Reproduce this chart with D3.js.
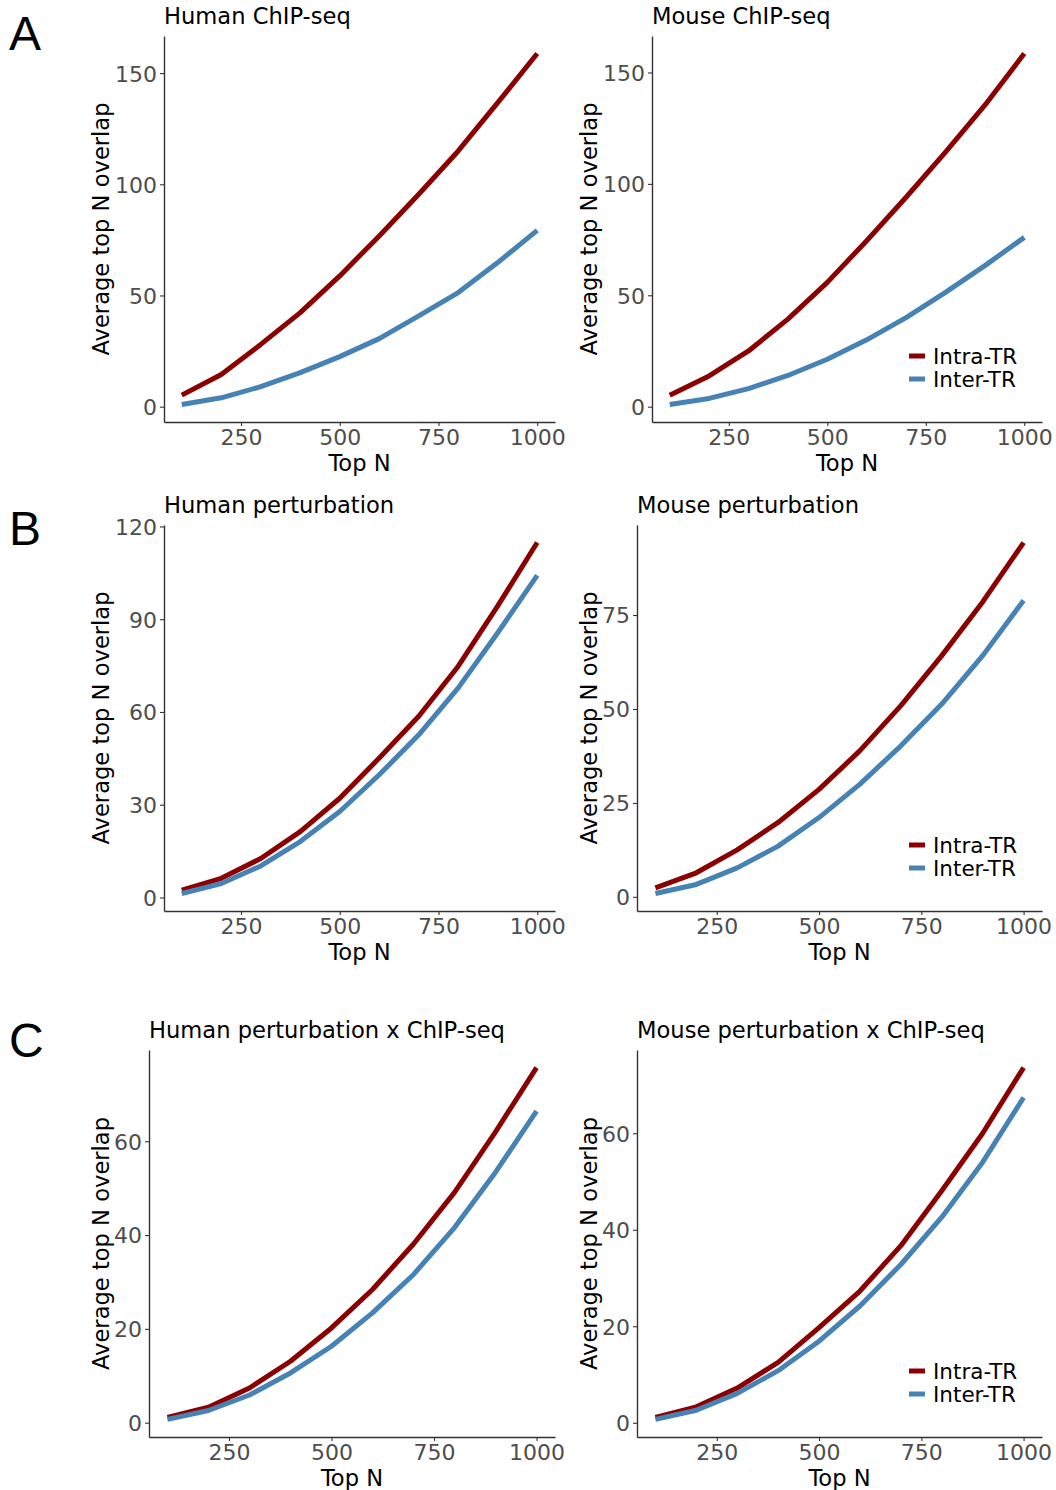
<!DOCTYPE html>
<html>
<head>
<meta charset="utf-8">
<script src="https://cdn.jsdelivr.net/npm/d3@7"></script>
<style>
  html, body { margin: 0; padding: 0; background: #fff; }
  svg { display: block; }
  .tick text { font-family: "DejaVu Sans", sans-serif; fill: #4D4D4D; }
</style>
</head>
<body>
<svg id="fig" width="1056" height="1490"></svg>
<script>
// Top N cut-offs shared by every panel
const topN = [100, 200, 300, 400, 500, 600, 700, 800, 900, 1000];
const xTicks = [250, 500, 750, 1000];

// Average overlap for each panel: intra-TR vs inter-TR pairs
const humanChipIntra = [5.2, 14.5, 28.0, 42.3, 58.8, 76.8, 95.5, 115.0, 136.7, 158.8];
const humanChipInter = [1.0, 4.0, 9.0, 15.3, 22.5, 30.6, 40.8, 51.3, 64.8, 79.3];
const mouseChipIntra = [5.1, 13.8, 25.0, 39.3, 55.8, 74.5, 94.0, 114.3, 135.3, 158.5];
const mouseChipInter = [1.0, 3.7, 8.1, 14.0, 21.3, 30.0, 40.0, 51.3, 63.3, 76.0];
const humanPertIntra = [2.4, 6.2, 12.6, 21.3, 32.1, 45.1, 58.6, 74.8, 94.3, 114.8];
const humanPertInter = [1.3, 4.5, 10.2, 18.1, 27.8, 39.7, 52.6, 67.8, 85.6, 104.2];
const mousePertIntra = [2.4, 6.4, 12.5, 19.8, 28.6, 38.9, 50.9, 64.2, 78.5, 94.3];
const mousePertInter = [0.9, 3.3, 7.7, 13.5, 21.1, 30.0, 40.2, 51.3, 64.2, 78.9];
const humanCrossIntra = [1.1, 3.3, 7.4, 13.1, 20.2, 28.4, 38.1, 49.1, 62.0, 75.7];
const humanCrossInter = [0.7, 2.6, 5.9, 10.6, 16.3, 23.4, 31.6, 41.6, 53.4, 66.4];
const mouseCrossIntra = [1.1, 3.3, 7.2, 12.5, 19.7, 27.3, 36.7, 48.1, 60.0, 73.6];
const mouseCrossInter = [0.7, 2.6, 6.1, 10.8, 16.9, 24.2, 32.8, 42.6, 54.0, 67.4];

// Y tick values per row
const yTicksChip = [0, 50, 100, 150];
const yTicksHumanPert = [0, 30, 60, 90, 120];
const yTicksMousePert = [0, 25, 50, 75];
const yTicksCross = [0, 20, 40, 60];

const seriesNames = ["Intra-TR", "Inter-TR"];
const seriesColors = ["#8B0000", "#4682B4"];

// Panel frames; yLabX is the baseline of the rotated y title (shared per column)
const panels = [
  { title: "Human ChIP-seq", intra: humanChipIntra, inter: humanChipInter, yTicks: yTicksChip,
    box: { x0: 164, x1: 555, y0: 36, y1: 422 }, yLabX: 109, legend: false, letter: "A", letterY: 50 },
  { title: "Mouse ChIP-seq", intra: mouseChipIntra, inter: mouseChipInter, yTicks: yTicksChip,
    box: { x0: 652, x1: 1042, y0: 36, y1: 422 }, yLabX: 597, legend: true },
  { title: "Human perturbation", intra: humanPertIntra, inter: humanPertInter, yTicks: yTicksHumanPert,
    box: { x0: 164, x1: 555, y0: 525, y1: 911 }, yLabX: 109, legend: false, letter: "B", letterY: 545 },
  { title: "Mouse perturbation", intra: mousePertIntra, inter: mousePertInter, yTicks: yTicksMousePert,
    box: { x0: 637, x1: 1042, y0: 525, y1: 911 }, yLabX: 597, legend: true },
  { title: "Human perturbation x ChIP-seq", intra: humanCrossIntra, inter: humanCrossInter, yTicks: yTicksCross,
    box: { x0: 149, x1: 555, y0: 1050, y1: 1437 }, yLabX: 109, legend: false, letter: "C", letterY: 1057 },
  { title: "Mouse perturbation x ChIP-seq", intra: mouseCrossIntra, inter: mouseCrossInter, yTicks: yTicksCross,
    box: { x0: 637, x1: 1042, y0: 1050, y1: 1437 }, yLabX: 597, legend: true }
];

const svg = d3.select("#fig");
const FONT = "'DejaVu Sans', sans-serif";
const TITLE_SIZE = 22.6;
const LINE_W = 5;

// ggplot-style continuous expansion (5% on each side)
function expand(lo, hi) {
  const pad = (hi - lo) * 0.05;
  return [lo - pad, hi + pad];
}

panels.forEach(p => {
  const b = p.box;
  const g = svg.append("g");

  const x = d3.scaleLinear().domain(expand(d3.min(topN), d3.max(topN))).range([b.x0, b.x1]);
  const allY = p.intra.concat(p.inter);
  const y = d3.scaleLinear().domain(expand(d3.min(allY), d3.max(allY))).range([b.y1, b.y0]);

  // series lines
  const line = d3.line().x((d, i) => x(topN[i])).y(d => y(d));
  [p.intra, p.inter].forEach((vals, k) => {
    g.append("path")
      .datum(vals)
      .attr("d", line)
      .attr("fill", "none")
      .attr("stroke", seriesColors[k])
      .attr("stroke-width", LINE_W)
      .attr("stroke-linejoin", "round")
      .attr("stroke-linecap", "butt");
  });

  // axes
  const xAxis = g.append("g")
    .attr("transform", `translate(0,${b.y1})`)
    .call(d3.axisBottom(x).tickValues(xTicks).tickSize(4).tickSizeOuter(0).tickPadding(2).tickFormat(d3.format("d")));
  const yAxis = g.append("g")
    .attr("transform", `translate(${b.x0},0)`)
    .call(d3.axisLeft(y).tickValues(p.yTicks).tickSize(4).tickSizeOuter(0).tickPadding(3).tickFormat(d3.format("d")));

  [xAxis, yAxis].forEach(ax => {
    ax.select(".domain").attr("stroke", "#333").attr("stroke-width", 1.4);
    ax.selectAll(".tick line").attr("stroke", "#333").attr("stroke-width", 1.1);
    ax.selectAll(".tick text").attr("font-size", 22).attr("font-family", FONT).attr("fill", "#4D4D4D");
  });
  xAxis.selectAll(".tick text").attr("dy", "0.75em");
  yAxis.selectAll(".tick text").attr("dy", "0.36em");

  // axis titles
  g.append("text")
    .attr("x", (b.x0 + b.x1) / 2)
    .attr("y", b.y1 + 49)
    .attr("text-anchor", "middle")
    .attr("font-family", FONT)
    .attr("font-size", TITLE_SIZE)
    .attr("fill", "#000")
    .text("Top N");

  g.append("text")
    .attr("transform", `translate(${p.yLabX},${(b.y0 + b.y1) / 2}) rotate(-90)`)
    .attr("text-anchor", "middle")
    .attr("font-family", FONT)
    .attr("font-size", TITLE_SIZE)
    .attr("fill", "#000")
    .text("Average top N overlap");

  // panel title
  g.append("text")
    .attr("x", b.x0)
    .attr("y", b.y0 - 12)
    .attr("font-family", FONT)
    .attr("font-size", TITLE_SIZE)
    .attr("fill", "#000")
    .text(p.title);

  // panel letter
  if (p.letter) {
    g.append("text")
      .attr("x", 9)
      .attr("y", p.letterY)
      .attr("font-family", "'Liberation Sans', Arial, sans-serif")
      .attr("font-size", 48)
      .attr("fill", "#000")
      .text(p.letter);
  }

  // legend inside the plot, lower right
  if (p.legend) {
    const lx = b.x1 - 133, ly = b.y1 - 66;
    seriesNames.forEach((name, k) => {
      const yy = ly + k * 23;
      g.append("line")
        .attr("x1", lx).attr("x2", lx + 16)
        .attr("y1", yy).attr("y2", yy)
        .attr("stroke", seriesColors[k])
        .attr("stroke-width", LINE_W);
      g.append("text")
        .attr("x", lx + 24)
        .attr("y", yy + 8)
        .attr("font-family", FONT)
        .attr("font-size", 21.5)
        .attr("fill", "#000")
        .text(name);
    });
  }
});
</script>
</body>
</html>
